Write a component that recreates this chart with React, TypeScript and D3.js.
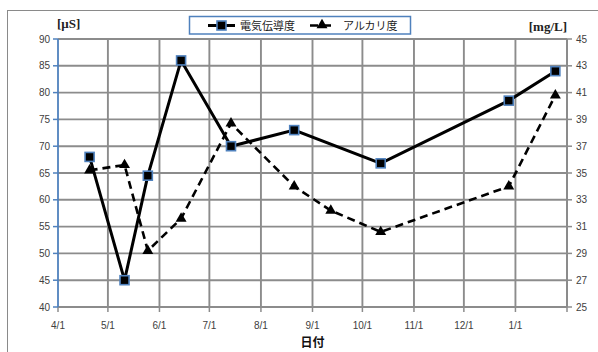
import React from "react";
import * as d3 from "d3";

// Sampling dates and measured values
const sampleDates = [
  "2013-04-20", "2013-05-11", "2013-05-25", "2013-06-14", "2013-07-14",
  "2013-08-21", "2013-09-12", "2013-10-12", "2013-12-28", "2014-01-25",
];
// Electrical conductivity [µS] (no reading on 9/12)
const conductivity: (number | null)[] = [68, 45, 64.5, 86, 70, 73, null, 66.8, 78.5, 84];
// Alkalinity [mg/L]
const alkalinity: number[] = [35.2, 35.6, 29.2, 31.6, 38.7, 34.0, 32.2, 30.6, 34.0, 40.8];

const monthTicks = [
  "2013-04-01", "2013-05-01", "2013-06-01", "2013-07-01", "2013-08-01",
  "2013-09-01", "2013-10-01", "2013-11-01", "2013-12-01", "2014-01-01", "2014-02-01",
];
const monthLabels = ["4/1", "5/1", "6/1", "7/1", "8/1", "9/1", "10/1", "11/1", "12/1", "1/1", ""];
const leftTicks = [40, 45, 50, 55, 60, 65, 70, 75, 80, 85, 90];
const rightTicks = [25, 27, 29, 31, 33, 35, 37, 39, 41, 43, 45];

const seriesNames = ["電気伝導度", "アルカリ度"];

const W = 598;
const H = 352;
const plot = { left: 58, right: 567, top: 39, bottom: 307 };

const parse = (s: string) => new Date(s + "T00:00:00Z");

const x = d3
  .scaleUtc()
  .domain([parse(monthTicks[0]), parse(monthTicks[monthTicks.length - 1])])
  .range([plot.left, plot.right]);
const yL = d3.scaleLinear().domain([40, 90]).range([plot.bottom, plot.top]);
const yR = d3.scaleLinear().domain([25, 45]).range([plot.bottom, plot.top]);

const GRID = "#8c8c8c";
const BLUE = "#4F81BD";
const TICK_TEXT = "#404040";
const labelFont = "'Liberation Sans', Arial, sans-serif";
const jpFont = "'Noto Sans CJK JP', sans-serif";

const condPts = sampleDates
  .map((d, i) => ({ d: parse(d), v: conductivity[i] }))
  .filter((p) => p.v !== null) as { d: Date; v: number }[];
const alkPts = sampleDates.map((d, i) => ({ d: parse(d), v: alkalinity[i] }));

const condLine = d3
  .line<{ d: Date; v: number }>()
  .x((p) => x(p.d))
  .y((p) => yL(p.v));
const alkLine = d3
  .line<{ d: Date; v: number }>()
  .x((p) => x(p.d))
  .y((p) => yR(p.v));

const tri = d3.symbol().type(d3.symbolTriangle).size(52);

function Square({ cx, cy }: { cx: number; cy: number }) {
  return (
    <rect
      x={cx - 4.5}
      y={cy - 4.5}
      width={9}
      height={9}
      fill="#000"
      stroke={BLUE}
      strokeWidth={1.6}
    />
  );
}

export default function App() {
  return (
    <svg
      width={W}
      height={H}
      style={{ position: "absolute", left: 0, top: 0, background: "#fff" }}
    >
      {/* chart frame */}
      <rect x={7.5} y={10.5} width={620} height={400} fill="#fff" stroke="#8a8a8a" strokeWidth={1} />

      {/* horizontal grid */}
      {leftTicks.map((t) => (
        <line key={"h" + t} x1={plot.left} x2={plot.right} y1={yL(t)} y2={yL(t)} stroke={GRID} strokeWidth={1.9} />
      ))}
      {/* vertical grid + bottom ticks */}
      {monthTicks.map((m, i) => {
        const px = x(parse(m));
        return (
          <g key={"v" + m}>
            {i > 0 && (
              <line x1={px} x2={px} y1={plot.top} y2={plot.bottom} stroke={GRID} strokeWidth={1.9} />
            )}
            <line x1={px} x2={px} y1={plot.bottom} y2={plot.bottom + 5} stroke={GRID} strokeWidth={1.5} />
            <text
              x={px}
              y={plot.bottom + 22}
              textAnchor="middle"
              fontSize={10}
              fontFamily={labelFont}
              fill={TICK_TEXT}
            >
              {monthLabels[i]}
            </text>
          </g>
        );
      })}

      {/* right axis */}
      <line x1={plot.right} x2={plot.right} y1={plot.top} y2={plot.bottom} stroke={GRID} strokeWidth={1.9} />
      {rightTicks.map((t) => (
        <g key={"r" + t}>
          <line x1={plot.right} x2={plot.right + 5} y1={yR(t)} y2={yR(t)} stroke={GRID} strokeWidth={1.5} />
          <text
            x={plot.right + 9}
            y={yR(t) + 3.5}
            fontSize={10}
            fontFamily={labelFont}
            fill={TICK_TEXT}
          >
            {t}
          </text>
        </g>
      ))}

      {/* bottom axis line */}
      <line x1={plot.left} x2={plot.right} y1={plot.bottom} y2={plot.bottom} stroke={GRID} strokeWidth={1.9} />

      {/* left axis */}
      <line x1={plot.left} x2={plot.left} y1={plot.top} y2={plot.bottom} stroke={BLUE} strokeWidth={1.8} />
      {leftTicks.map((t) => (
        <g key={"l" + t}>
          <line x1={plot.left - 5} x2={plot.left} y1={yL(t)} y2={yL(t)} stroke={BLUE} strokeWidth={1.5} />
          <text
            x={plot.left - 8}
            y={yL(t) + 3.5}
            textAnchor="end"
            fontSize={10}
            fontFamily={labelFont}
            fill={TICK_TEXT}
          >
            {t}
          </text>
        </g>
      ))}

      {/* alkalinity (dashed, right axis) */}
      <path d={alkLine(alkPts) ?? ""} fill="none" stroke="#000" strokeWidth={2.6} strokeDasharray="8,5" />
      {alkPts.map((p, i) => (
        <path key={"a" + i} d={tri() ?? ""} transform={`translate(${x(p.d)},${yR(p.v)})`} fill="#000" />
      ))}

      {/* conductivity (solid, left axis) */}
      <path d={condLine(condPts) ?? ""} fill="none" stroke="#000" strokeWidth={3} />
      {condPts.map((p, i) => (
        <Square key={"c" + i} cx={x(p.d)} cy={yL(p.v)} />
      ))}

      {/* axis titles */}
      <text x={57} y={28} fontSize={13} fontWeight="bold" fontFamily="'Liberation Serif', serif" fill="#222">
        [μS]
      </text>
      <text x={567} y={31} textAnchor="end" fontSize={13} fontWeight="bold" fontFamily="'Liberation Serif', serif" fill="#222">
        [mg/L]
      </text>
      <text x={(plot.left + plot.right) / 2} y={347} textAnchor="middle" fontSize={12} fontWeight="bold" fontFamily={jpFont} fill="#111">
        日付
      </text>

      {/* legend */}
      <rect x={189.5} y={16.5} width={221} height={17.5} fill="#fff" stroke={BLUE} strokeWidth={1.5} />
      <line x1={208} x2={235} y1={25.5} y2={25.5} stroke="#000" strokeWidth={3} />
      <Square cx={221.5} cy={25.5} />
      <text x={240} y={29.5} fontSize={11} fontFamily={jpFont} fill="#222">
        {seriesNames[0]}
      </text>
      <line x1={310} x2={332} y1={25.5} y2={25.5} stroke="#000" strokeWidth={2.6} strokeDasharray="8,5" />
      <path d={tri() ?? ""} transform="translate(322,25)" fill="#000" />
      <text x={343} y={29.5} fontSize={11} fontFamily={jpFont} fill="#222">
        {seriesNames[1]}
      </text>
    </svg>
  );
}
